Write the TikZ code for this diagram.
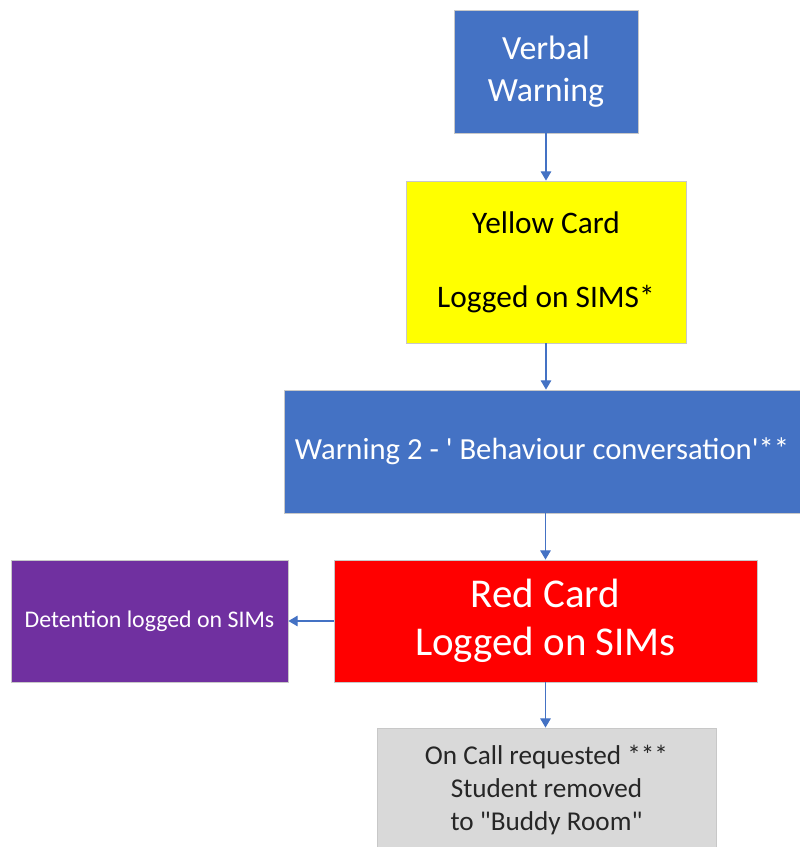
\documentclass[tikz,border=0pt]{standalone}
\usepackage{fontspec}
\setmainfont{Carlito}
\definecolor{boxblue}{HTML}{4472C4}
\definecolor{cardyellow}{HTML}{FFFF00}
\definecolor{cardred}{HTML}{FF0000}
\definecolor{detpurple}{HTML}{7030A0}
\definecolor{calgray}{HTML}{D9D9D9}
\definecolor{edgegray}{HTML}{C8C8C8}
\tikzset{
  stage/.style={draw=edgegray, line width=0.6pt, align=center, inner sep=0pt},
  flow/.style={boxblue, line width=0.9pt, -{Triangle[width=8pt,length=7pt]}},
}
\usetikzlibrary{arrows.meta}
\begin{document}
\begin{tikzpicture}[x=0.75pt, y=-0.75pt]
\clip (0,0) rectangle (800,847);
\node[stage, fill=boxblue, text=white, minimum width=138pt, minimum height=92.25pt, font=\fontsize{25.4}{32}\selectfont] (verbal) at (546,71.5) {Verbal\\Warning};
\node[stage, fill=cardyellow, text=black, minimum width=210pt, minimum height=121.5pt, font=\fontsize{23.5}{28}\selectfont] (yellow) at (546,262) {Yellow Card\\[27.5pt]Logged on SIMS*};
\draw[flow] (verbal) -- (yellow);
\node[stage, fill=boxblue, text=white, minimum width=387pt, minimum height=92.25pt, font=\fontsize{23}{28}\selectfont] (warn) at (542,451.5) {Warning 2 - \textquotesingle{} Behaviour conversation\textquotesingle**};
\draw[flow] (yellow.south) -- (yellow.south |- warn.north);
\node[stage, fill=cardred, text=white, minimum width=317.25pt, minimum height=91.5pt, font=\fontsize{30.7}{36}\selectfont] (red) at (545.5,621) {Red Card\\Logged on SIMs};
\draw[flow] (warn.south -| red.north) -- (red.north);
\node[stage, fill=detpurple, text=white, minimum width=207.75pt, minimum height=91.5pt, font=\fontsize{17.9}{21}\selectfont] (detention) at (149.5,621) {Detention logged on SIMs};
\draw[flow] (red.west) -- (detention.east);
\node[stage, fill=calgray, text=black!85, minimum width=254.25pt, minimum height=93pt, font=\fontsize{20.4}{25}\selectfont] (oncall) at (546.5,790) {On Call requested ***\\Student removed\\to \textquotedbl Buddy Room\textquotedbl};
\draw[flow] (red.south) -- (red.south |- oncall.north);
\end{tikzpicture}
\end{document}
